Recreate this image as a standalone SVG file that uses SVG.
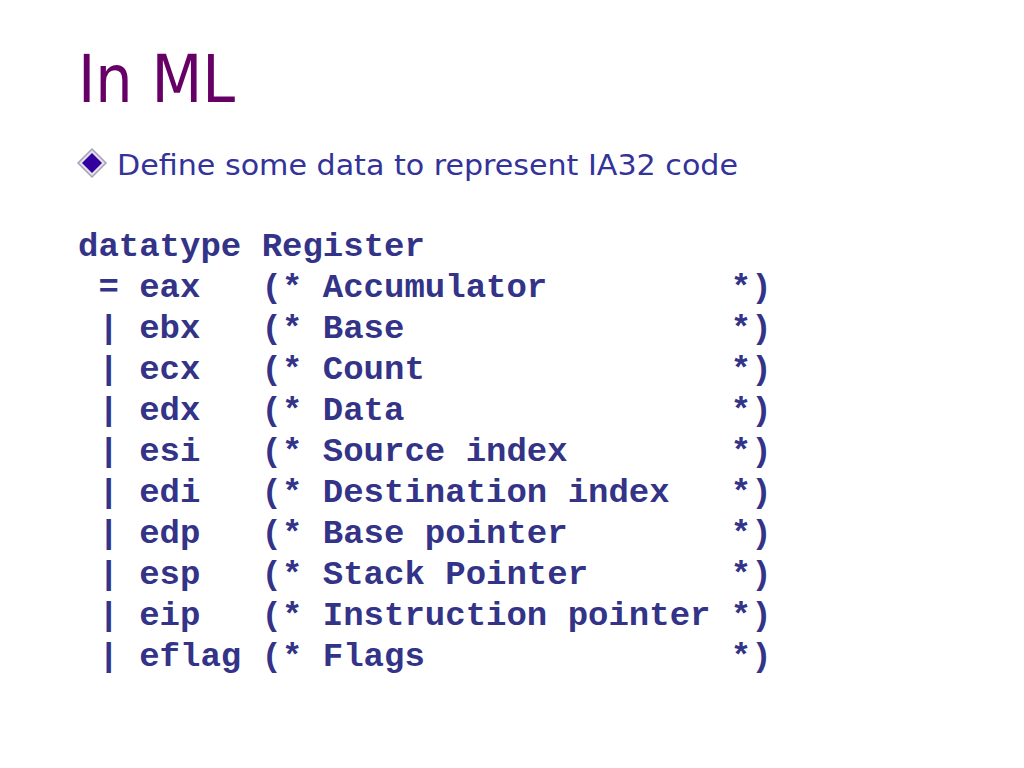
<svg xmlns="http://www.w3.org/2000/svg" width="1024" height="768" viewBox="0 0 1024 768">
<style>
.title{font-family:"DejaVu Sans Condensed","Liberation Sans",sans-serif;font-size:66px;fill:#660066}
.bullet{font-family:"DejaVu Sans Condensed","Liberation Sans",sans-serif;font-size:29px;fill:#333399}
.code text{font-family:"Liberation Mono","Courier New",monospace;font-size:34px;font-weight:bold;fill:#333388}
</style>
<rect width="1024" height="768" fill="#ffffff"/>
<g id="title"><text class="title" x="78" y="102" textLength="157" lengthAdjust="spacingAndGlyphs">In ML</text></g>
<g id="bullet">
<polygon points="92,149 106,163 92,177 78,163" fill="#e4e0ec" stroke="#a8a0b8" stroke-width="1.5"/>
<polygon points="92,153 102,163 92,173 82,163" fill="#3300a0"/>
<text class="bullet" x="117" y="175" textLength="621" lengthAdjust="spacingAndGlyphs">Define some data to represent IA32 code</text>
</g>
<g id="code" class="code">
<text x="78" y="256">datatype Register</text>
<text x="98.4" y="297">=</text><text x="139.2" y="297">eax</text><text x="261.6" y="297">(* Accumulator</text><text x="730.8" y="297">*)</text>
<text x="98.4" y="338">|</text><text x="139.2" y="338">ebx</text><text x="261.6" y="338">(* Base</text><text x="730.8" y="338">*)</text>
<text x="98.4" y="379">|</text><text x="139.2" y="379">ecx</text><text x="261.6" y="379">(* Count</text><text x="730.8" y="379">*)</text>
<text x="98.4" y="420">|</text><text x="139.2" y="420">edx</text><text x="261.6" y="420">(* Data</text><text x="730.8" y="420">*)</text>
<text x="98.4" y="461">|</text><text x="139.2" y="461">esi</text><text x="261.6" y="461">(* Source index</text><text x="730.8" y="461">*)</text>
<text x="98.4" y="502">|</text><text x="139.2" y="502">edi</text><text x="261.6" y="502">(* Destination index</text><text x="730.8" y="502">*)</text>
<text x="98.4" y="543">|</text><text x="139.2" y="543">edp</text><text x="261.6" y="543">(* Base pointer</text><text x="730.8" y="543">*)</text>
<text x="98.4" y="584">|</text><text x="139.2" y="584">esp</text><text x="261.6" y="584">(* Stack Pointer</text><text x="730.8" y="584">*)</text>
<text x="98.4" y="625">|</text><text x="139.2" y="625">eip</text><text x="261.6" y="625">(* Instruction pointer</text><text x="730.8" y="625">*)</text>
<text x="98.4" y="666">|</text><text x="139.2" y="666">eflag</text><text x="261.6" y="666">(* Flags</text><text x="730.8" y="666">*)</text>
</g>
</svg>
